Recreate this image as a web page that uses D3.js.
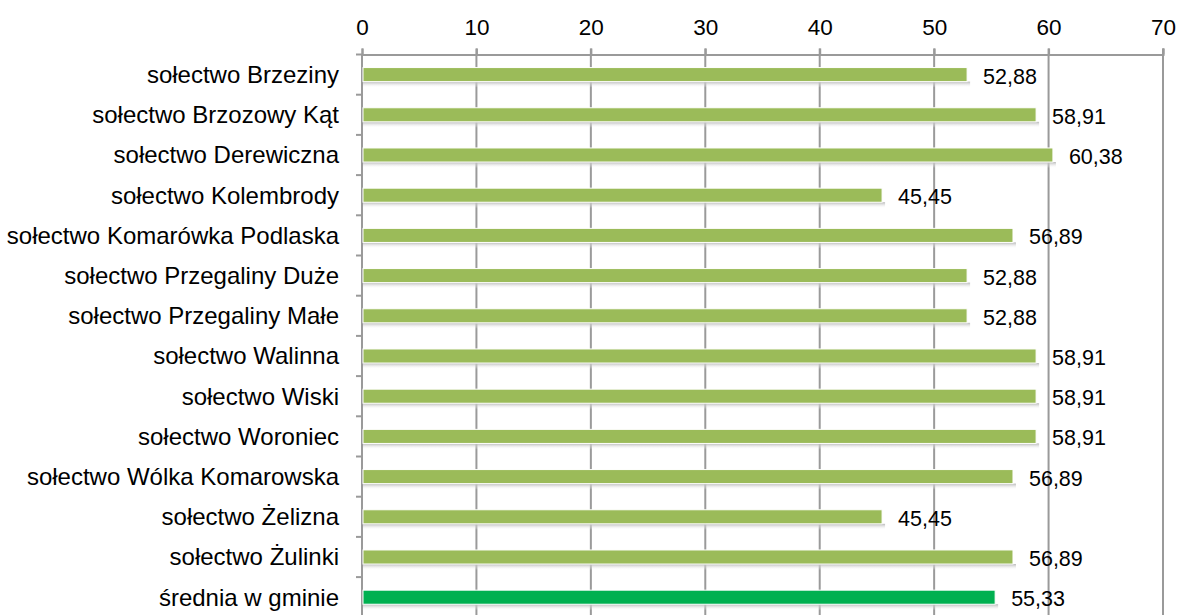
<!DOCTYPE html>
<html>
<head>
<meta charset="utf-8">
<script src="https://cdn.jsdelivr.net/npm/d3@7"></script>
<style>
  body { margin: 0; background: #fff; }
  svg { display: block; font-family: "Liberation Sans", Arial, sans-serif; }
</style>
</head>
<body>
<div id="chart"></div>
<script>
var w = 1179;
var h = 615;

var categories = [
  "sołectwo Brzeziny",
  "sołectwo Brzozowy Kąt",
  "sołectwo Derewiczna",
  "sołectwo Kolembrody",
  "sołectwo Komarówka Podlaska",
  "sołectwo Przegaliny Duże",
  "sołectwo Przegaliny Małe",
  "sołectwo Walinna",
  "sołectwo Wiski",
  "sołectwo Woroniec",
  "sołectwo Wólka Komarowska",
  "sołectwo Żelizna",
  "sołectwo Żulinki",
  "średnia w gminie"
];
var values = [52.88, 58.91, 60.38, 45.45, 56.89, 52.88, 52.88, 58.91, 58.91, 58.91, 56.89, 45.45, 56.89, 55.33];
var ticks = [0, 10, 20, 30, 40, 50, 60, 70];

var plotLeft = 362, plotRight = 1163, plotTop = 54.5, step = 40.2;

var xScale = d3.scaleLinear().domain([0, 70]).range([plotLeft, plotRight]);
var yScale = d3
  .scaleBand()
  .domain(categories)
  .range([plotTop, plotTop + step * categories.length])
  .paddingInner(0.65)
  .paddingOuter(0.325);

var svg = d3.select("#chart").append("svg").attr("width", w).attr("height", h);

var defs = svg.append("defs");
var grad = defs.append("linearGradient").attr("id", "shadow").attr("x1", 0).attr("y1", 0).attr("x2", 0).attr("y2", 1);
grad.append("stop").attr("offset", "0%").attr("stop-color", "#b8b8b8");
grad.append("stop").attr("offset", "100%").attr("stop-color", "#ffffff").attr("stop-opacity", 0);

// gridlines
svg
  .selectAll("line.grid")
  .data(ticks.slice(1))
  .enter()
  .append("line")
  .attr("class", "grid")
  .attr("x1", function (d) { return xScale(d); })
  .attr("x2", function (d) { return xScale(d); })
  .attr("y1", plotTop - 6)
  .attr("y2", h)
  .attr("stroke", "#9a9a9a")
  .attr("stroke-width", 2);

// top axis
var xAxis = d3.axisTop(xScale).tickValues(ticks).tickSize(6).tickPadding(14);
var gx = svg.append("g").attr("transform", "translate(0," + plotTop + ")").call(xAxis);
gx.select(".domain").attr("stroke", "#9a9a9a").attr("stroke-width", 2);
gx.selectAll(".tick line").attr("stroke", "#9a9a9a").attr("stroke-width", 2);
gx.selectAll(".tick text").attr("font-size", 22.5).attr("fill", "#000").attr("font-family", "Liberation Sans, Arial, sans-serif");

// left axis line with category separators
svg.append("line")
  .attr("x1", plotLeft).attr("x2", plotLeft)
  .attr("y1", plotTop).attr("y2", h)
  .attr("stroke", "#9a9a9a").attr("stroke-width", 2);

svg
  .selectAll("line.sep")
  .data(d3.range(categories.length + 1))
  .enter()
  .append("line")
  .attr("class", "sep")
  .attr("x1", plotLeft - 6)
  .attr("x2", plotLeft)
  .attr("y1", function (i) { return plotTop + i * step; })
  .attr("y2", function (i) { return plotTop + i * step; })
  .attr("stroke", "#9a9a9a")
  .attr("stroke-width", 2);

// category labels
svg
  .selectAll("text.cat")
  .data(categories)
  .enter()
  .append("text")
  .attr("class", "cat")
  .attr("x", 339)
  .attr("y", function (d) { return yScale(d) + yScale.bandwidth() / 2; })
  .attr("dy", "0.35em")
  .attr("text-anchor", "end")
  .attr("font-size", 24)
  .attr("fill", "#000")
  .text(function (d) { return d; });

// bar shadows
svg
  .selectAll("rect.shadow")
  .data(values)
  .enter()
  .append("rect")
  .attr("class", "shadow")
  .attr("x", plotLeft + 1)
  .attr("y", function (d, i) { return yScale(categories[i]) + yScale.bandwidth(); })
  .attr("width", function (d) { return xScale(d) - plotLeft + 2; })
  .attr("height", 6)
  .attr("fill", "url(#shadow)");

// bars
svg
  .selectAll("rect.bar")
  .data(values)
  .enter()
  .append("rect")
  .attr("class", "bar")
  .attr("x", plotLeft + 1)
  .attr("y", function (d, i) { return yScale(categories[i]); })
  .attr("width", function (d) { return xScale(d) - plotLeft - 1; })
  .attr("height", yScale.bandwidth())
  .attr("fill", function (d, i) { return i === categories.length - 1 ? "#00b050" : "#9bbb59"; })
  .attr("stroke", "#ffffff")
  .attr("stroke-width", 1);

// value labels
svg
  .selectAll("text.val")
  .data(values)
  .enter()
  .append("text")
  .attr("class", "val")
  .attr("x", function (d) { return xScale(d) + 16; })
  .attr("y", function (d, i) { return yScale(categories[i]) + yScale.bandwidth() / 2 + 1.5; })
  .attr("dy", "0.35em")
  .attr("font-size", 21.5)
  .attr("fill", "#000")
  .text(function (d) { return d.toFixed(2).replace(".", ","); });
</script>
</body>
</html>
